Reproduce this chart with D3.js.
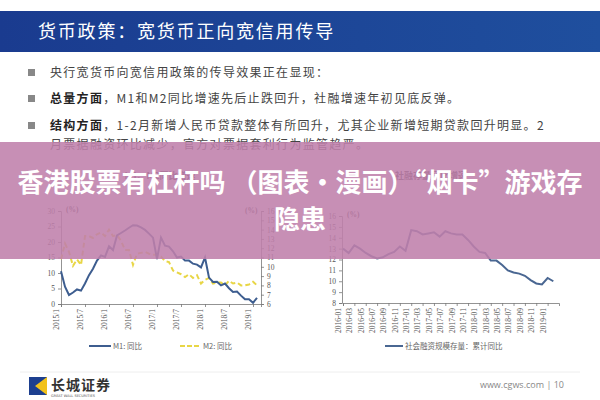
<!DOCTYPE html>
<html><head><meta charset="utf-8">
<script src="https://cdn.jsdelivr.net/npm/d3@7"></script>
<style>
html,body{margin:0;padding:0;background:#fff;}
svg{display:block;}
</style></head>
<body>
<svg id="c" width="600" height="400"></svg>
<script>
// ---------------- data ----------------
const headerTitle = "货币政策：宽货币正向宽信用传导";
const bullets = [
  [["", "央行宽货币向宽信用政策的传导效果正在显现："]],
  [["b", "总量方面"], ["", "，M1和M2同比增速先后止跌回升，社融增速年初见底反弹。"]],
  [["b", "结构方面"], ["", "，1-2月新增人民币贷款整体有所回升，尤其企业新增短期贷款回升明显。2"]]
];
const bulletCont = "月票据融资环比减少，官方对票据套利行为监管趋严。";
const bannerLines = ["香港股票有杠杆吗 （图表·漫画）“烟卡”游戏存", "隐患"];

// left chart: monthly 2015/1 .. 2019/2
const m1Values = [10.6,5.6,2.9,3.7,4.7,4.3,6.6,9.3,11.4,14.0,15.7,15.2,
  18.6,17.4,22.1,22.9,23.7,24.6,25.4,25.3,24.7,23.9,22.7,21.4,
  14.5,21.4,18.8,18.5,17.0,15.0,15.3,14.0,14.0,13.0,12.7,11.8,
  15.0,8.5,7.1,7.2,6.0,6.6,5.1,3.9,4.0,2.7,1.5,1.5,
  0.4,2.0];
const m2Values = [10.8,12.5,11.6,10.1,10.8,10.2,13.3,13.3,13.1,13.5,13.7,13.3,
  14.0,13.3,13.4,12.8,11.8,11.8,10.2,11.4,11.5,11.6,11.4,11.3,
  11.3,11.1,10.6,10.5,9.6,9.4,9.2,8.9,9.2,8.8,9.1,8.2,
  8.6,8.8,8.2,8.3,8.3,8.0,8.5,8.2,8.3,8.0,8.0,8.1,
  8.4,8.0];
const leftXTicks = ["2015/1","2015/7","2016/1","2016/7","2017/1","2017/7","2018/1","2018/7","2019/1"];
const leftYTicks = [0,5,10,15,20,25,30];
const rightYTicksL = [6,7,8,9,10,11,12,13,14,15,16];
const leftLegend = ["M1: 同比", "M2: 同比"];
const leftTitle = "M1、M2同比增速";

// right chart: monthly 2016-01 .. 2019-02
const tsfValues = [13.0,12.6,13.3,13.0,12.6,12.3,12.1,12.2,12.5,12.7,13.2,12.8,
  14.7,14.6,14.3,14.4,14.5,14.1,14.6,14.4,14.3,14.3,13.8,13.2,
  12.7,12.6,11.9,11.9,11.5,11.0,10.8,10.7,10.5,10.1,9.8,9.7,
  10.3,10.0];
const rightXTicks = ["2016-01","2016-03","2016-05","2016-07","2016-09","2016-11",
  "2017-01","2017-03","2017-05","2017-07","2017-09","2017-11",
  "2018-01","2018-03","2018-05","2018-07","2018-09","2018-11","2019-01"];
const rightYTicks = [8,9,10,11,12,13,14,15,16];
const rightLegend = "社会融资规模存量：累计同比";
const rightTitle = "社融存量同比增速";

const footerBrand = "长城证券";
const footerBrandEn = "GREAT WALL SECURITIES";
const footerUrl = "www.cgws.com  |  10";

// ---------------- drawing ----------------
const svg = d3.select("#c");
const CJK = "'Noto Sans CJK SC', sans-serif";
const SERIF = "'Liberation Serif', 'DejaVu Serif', serif";

// header band
const grad = svg.append("defs").append("linearGradient").attr("id","hg").attr("x1","0").attr("x2","1");
grad.append("stop").attr("offset","0").attr("stop-color","#1a3b8f");
grad.append("stop").attr("offset","1").attr("stop-color","#1f4f9e");
svg.append("rect").attr("x",0).attr("y",11).attr("width",600).attr("height",41).attr("fill","url(#hg)");
svg.append("text").attr("x",38).attr("y",38).attr("fill","#fff")
  .attr("font-family",CJK).attr("font-size",18).attr("letter-spacing",1.8)
  .text(headerTitle);

// bullets
const bulletY = [77, 103, 130];
bullets.forEach((parts, i) => {
  svg.append("rect").attr("x",28).attr("y",bulletY[i]-8).attr("width",7).attr("height",7).attr("fill","#888");
  const t = svg.append("text").attr("x",50).attr("y",bulletY[i]).attr("font-family",CJK)
    .attr("font-size",12).attr("letter-spacing",1.3).attr("fill","#444");
  parts.forEach(p => t.append("tspan").attr("font-weight", p[0]==="b" ? "bold" : "normal")
    .attr("fill", p[0]==="b" ? "#222" : "#444").text(p[1]));
});
svg.append("text").attr("x",50).attr("y",149).attr("font-family",CJK)
  .attr("font-size",12).attr("letter-spacing",1.3).attr("fill","#444").text(bulletCont);

// chart titles (mostly hidden under banner)
svg.append("text").attr("x",160).attr("y",179).attr("text-anchor","middle").attr("font-family",CJK)
  .attr("font-size",9).attr("font-weight","bold").attr("fill","#333").text(leftTitle);
svg.append("text").attr("x",395).attr("y",179).attr("font-family",CJK)
  .attr("font-size",9).attr("font-weight","bold").attr("fill","#333").text(rightTitle);

const axisColor = "#777", labColor = "#555";
function styleAxis(g){
  g.selectAll("path,line").attr("stroke",axisColor).attr("stroke-width",0.8);
  g.selectAll("text").attr("fill",labColor).attr("font-family",SERIF).attr("font-size",7.5);
}

// ---- left chart ----
const xL = d3.scaleLinear().domain([0,50]).range([61,261]);
const yL = d3.scaleLinear().domain([0,30]).range([304,211]);
const yR = d3.scaleLinear().domain([6,16]).range([304,211]);

const gxL = svg.append("g").attr("transform","translate(0,304)")
  .call(d3.axisBottom(xL).tickValues(leftXTicks.map((d,i)=>i*6)).tickFormat((d,i)=>leftXTicks[i]).tickSize(3));
gxL.selectAll("text").attr("transform","rotate(-90)").attr("text-anchor","end")
  .attr("dx","-0.4em").attr("dy","-0.35em").attr("y",0).attr("x",-2);
styleAxis(gxL);
const gyL = svg.append("g").attr("transform","translate(61,0)")
  .call(d3.axisLeft(yL).tickValues(leftYTicks).tickSize(3).tickPadding(3));
styleAxis(gyL);
const gyR = svg.append("g").attr("transform","translate(261,0)")
  .call(d3.axisRight(yR).tickValues(rightYTicksL).tickSize(3).tickPadding(3));
styleAxis(gyR);
svg.append("text").attr("x",66).attr("y",212).attr("font-family",SERIF).attr("font-size",7.5)
  .attr("font-weight","bold").attr("fill","#444").text("(%)");
svg.append("text").attr("x",245).attr("y",213).attr("font-family",SERIF).attr("font-size",7.5)
  .attr("font-weight","bold").attr("fill","#444").text("(%)");

svg.append("path").datum(m2Values)
  .attr("d", d3.line().x((d,i)=>xL(i)).y(d=>yR(d)))
  .attr("fill","none").attr("stroke","#e8d646").attr("stroke-width",2).attr("stroke-dasharray","5,3");
svg.append("path").datum(m1Values)
  .attr("d", d3.line().x((d,i)=>xL(i)).y(d=>yL(d)))
  .attr("fill","none").attr("stroke","#3d5d8f").attr("stroke-width",2);

// left legend
svg.append("line").attr("x1",89).attr("x2",111).attr("y1",346).attr("y2",346).attr("stroke","#3d5d8f").attr("stroke-width",2);
svg.append("text").attr("x",113).attr("y",349).attr("font-family",CJK).attr("font-size",7.5).attr("fill","#666").text(leftLegend[0]);
svg.append("line").attr("x1",180).attr("x2",201).attr("y1",346).attr("y2",346).attr("stroke","#e8d646").attr("stroke-width",2).attr("stroke-dasharray","5,2");
svg.append("text").attr("x",203).attr("y",349).attr("font-family",CJK).attr("font-size",7.5).attr("fill","#666").text(leftLegend[1]);

// ---- right chart ----
const xT = d3.scaleLinear().domain([0,38]).range([343,559]);
const yT = d3.scaleLinear().domain([8,16]).range([303,216]);
const gxT = svg.append("g").attr("transform","translate(0,303)")
  .call(d3.axisBottom(xT).tickValues(rightXTicks.map((d,i)=>i*2)).tickFormat((d,i)=>rightXTicks[i]).tickSize(3));
gxT.selectAll("text").attr("transform","rotate(-90)").attr("text-anchor","end")
  .attr("dy","-0.35em").attr("y",0).attr("x",-5);
styleAxis(gxT);
const gyT = svg.append("g").attr("transform","translate(342,0)")
  .call(d3.axisLeft(yT).tickValues(rightYTicks).tickSize(3).tickPadding(3));
styleAxis(gyT);
svg.append("text").attr("x",347).attr("y",217).attr("font-family",SERIF).attr("font-size",7.5)
  .attr("font-weight","bold").attr("fill","#444").text("(%)");
svg.append("path").datum(tsfValues)
  .attr("d", d3.line().x((d,i)=>xT(i)).y(d=>yT(d)))
  .attr("fill","none").attr("stroke","#4a6792").attr("stroke-width",2);
svg.append("line").attr("x1",385).attr("x2",403).attr("y1",346).attr("y2",346).attr("stroke","#4a6792").attr("stroke-width",2);
svg.append("text").attr("x",405).attr("y",349).attr("font-family",CJK).attr("font-size",7.5).attr("fill","#666").text(rightLegend);

// footer
svg.append("line").attr("x1",20).attr("x2",580).attr("y1",372).attr("y2",372).attr("stroke","#eee").attr("stroke-width",1);
svg.append("rect").attr("x",29).attr("y",377).attr("width",18).attr("height",18).attr("fill","#1d3f8f");
svg.append("path").attr("d","M47,377 L35,386 L47,395 Z").attr("fill","#f2c21b");
svg.append("text").attr("x",51).attr("y",390).attr("font-family",CJK).attr("font-size",14).attr("font-weight","bold")
  .attr("fill","#333").attr("letter-spacing",1).text(footerBrand);
svg.append("text").attr("x",51).attr("y",397).attr("font-family","'DejaVu Sans', sans-serif").attr("font-size",3.5)
  .attr("fill","#555").text(footerBrandEn);
svg.append("text").attr("x",564).attr("y",388).attr("text-anchor","end").attr("font-family","'Open Sans', sans-serif")
  .attr("font-size",9).attr("fill","#888").text(footerUrl);

// banner overlay
svg.append("rect").attr("x",0).attr("y",142).attr("width",600).attr("height",117)
  .attr("fill","#bf7fab").attr("opacity",0.88);
svg.append("text").attr("x",300).attr("y",192).attr("text-anchor","middle").attr("font-family",CJK)
  .attr("font-size",26).attr("font-weight","bold").attr("fill","#fff").text(bannerLines[0]);
svg.append("text").attr("x",300).attr("y",229).attr("text-anchor","middle").attr("font-family",CJK)
  .attr("font-size",26).attr("font-weight","bold").attr("fill","#fff").text(bannerLines[1]);
</script>
</body></html>
